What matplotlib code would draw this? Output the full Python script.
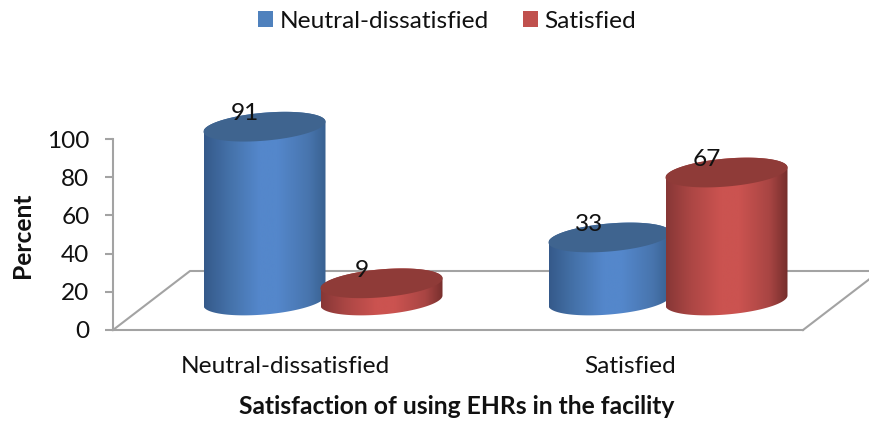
import numpy as np
import matplotlib
matplotlib.use("Agg")
import matplotlib.pyplot as plt
from matplotlib.colors import LinearSegmentedColormap
from matplotlib.patches import Patch, Polygon

categories = ["Neutral-dissatisfied", "Satisfied"]
series_names = ["Neutral-dissatisfied", "Satisfied"]
neutral_values = [91, 33]
satisfied_values = [9, 67]
y_ticks = [0, 20, 40, 60, 80, 100]

W, H = 869, 424
plt.rcParams["font.family"] = ["Lato", "DejaVu Sans"]
FS = 17.6
FS_BOLD = 17.7
GRAY = "#a3a3a3"

fig = plt.figure(figsize=(W / 100, H / 100), dpi=100)
ax = fig.add_axes([113 / W, 1 - 330 / H, 690 / W, 191 / H])
ax.set_xlim(0, 2)
ax.set_ylim(0, 100)
ax.patch.set_visible(False)
px = 2 / 690      # x data units per pixel
py = 100 / 191    # y data units per pixel
depth_x, depth_y = 77 * px, 59 * py

for s in ["top", "right"]:
    ax.spines[s].set_visible(False)
for s in ["left", "bottom"]:
    ax.spines[s].set_color(GRAY)
    ax.spines[s].set_linewidth(1.5)
ax.set_yticks(y_ticks)
ax.tick_params(axis="y", length=6, width=1.5, color=GRAY, pad=11, labelsize=FS, labelcolor="#111111")
ax.set_xticks([0.5, 1.5], categories)
ax.tick_params(axis="x", length=0, pad=19, labelsize=FS, labelcolor="#111111")

# floor outline
ax.plot([0, depth_x, 2 + depth_x], [0, depth_y, depth_y], color=GRAY, lw=1.5, clip_on=False, zorder=1)
ax.plot([2, 2 + depth_x], [0, depth_y], color=GRAY, lw=1.5, clip_on=False, zorder=1)

blue_stops = [(0, "#35598a"), (0.2, "#4471a8"), (0.45, "#5487cb"), (0.6, "#5487cb"), (0.85, "#4875ae"), (1, "#38608f")]
red_stops = [(0, "#873736"), (0.2, "#ab4644"), (0.45, "#cb5350"), (0.6, "#cb5350"), (0.85, "#a84543"), (1, "#752e2c")]
cmaps = [
    LinearSegmentedColormap.from_list("b", blue_stops),
    LinearSegmentedColormap.from_list("r", red_stops),
]
top_colors = ["#3f648f", "#8f3b38"]

a, b, k = 61 * px, 14 * py, 5 * py
half_gap = 58.5 * px
shift_x = -1 * px
t = np.linspace(0, 2 * np.pi, 200)


def ellipse(cx, cy, tt):
    return cx + a * np.cos(tt), cy - b * np.sin(tt) + k * np.cos(tt)


z = 5
for cat in range(len(categories)):
    centre = cat + 0.5 + depth_x / 2 + shift_x
    base = depth_y / 2
    for i, vals in enumerate([neutral_values, satisfied_values]):
        v = vals[cat]
        cx = centre + (2 * i - 1) * half_gap
        top = base + v
        # body outline: front of the base ellipse, then back of the top one
        bx, by = ellipse(cx, base, np.linspace(np.pi, 0, 80))
        ux, uy = ellipse(cx, top, np.linspace(0, -np.pi, 80))
        body = Polygon(np.column_stack([np.r_[bx, ux], np.r_[by, uy]]), closed=True,
                       transform=ax.transData, fc="none", ec="none")
        ax.add_patch(body)
        body.set_clip_on(False)
        im = ax.imshow(np.linspace(0, 1, 256)[None, :], cmap=cmaps[i], aspect="auto",
                       extent=[cx - a, cx + a, base - 40, top + 40], zorder=z)
        im.set_clip_box(fig.bbox)
        im.set_clip_path(body)
        ex, ey = ellipse(cx, top, t)
        ax.fill(ex, ey, color=top_colors[i], clip_on=False, zorder=z + 1, lw=0)
        z += 2
        ax.annotate(str(v), (cx, top), xytext=(-20, 13), textcoords="offset pixels",
                    ha="center", va="center", fontsize=FS, color="#111111", zorder=50,
                    annotation_clip=False)

ax.set_xlim(0, 2)
ax.set_ylim(0, 100)

fig.text(23 / W, 1 - 235 / H, "Percent", rotation=90, ha="center", va="center",
         fontsize=FS_BOLD, fontweight="bold", color="#111111")
fig.text(457 / W, 1 - 407 / H, "Satisfaction of using EHRs in the facility", ha="center", va="center",
         fontsize=FS_BOLD, fontweight="bold", color="#111111")

handles = [Patch(fc="#4f81bd", ec="none"), Patch(fc="#c0504d", ec="none")]
fig.legend(handles, series_names, ncol=2, loc="center", bbox_to_anchor=(447 / W, 1 - 21 / H),
           frameon=False, fontsize=FS, handlelength=0.61, handleheight=0.61, handletextpad=0.28,
           columnspacing=1.38, labelcolor="#111111")

fig.savefig("out.png", dpi=100)
